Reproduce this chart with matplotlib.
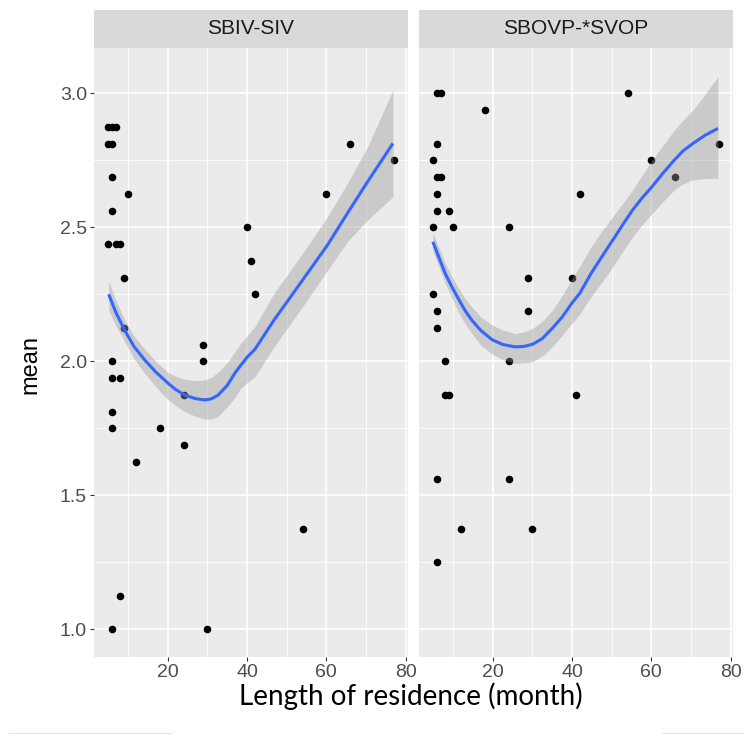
import matplotlib
matplotlib.use('Agg')
import matplotlib.pyplot as plt
from matplotlib.lines import Line2D

panels = ['SBIV-SIV', 'SBOVP-*SVOP']

# raw points, length of residence (month) vs mean
sbiv_x = [5, 6, 7, 5, 6, 6, 10, 6, 5, 7, 8, 9, 40, 41, 42, 9, 29, 29, 6, 6, 8,
          24, 6, 6, 18, 24, 12, 8, 6, 30, 66, 60, 77, 54]
sbiv_y = [2.875, 2.875, 2.875, 2.8125, 2.8125, 2.6875, 2.625, 2.5625, 2.4375, 2.4375, 2.4375,
          2.3125, 2.5, 2.375, 2.25, 2.125, 2.0625, 2.0, 2.0, 1.9375, 1.9375,
          1.875, 1.8125, 1.75, 1.75, 1.6875, 1.625, 1.125, 1.0, 1.0, 2.8125, 2.625, 2.75, 1.375]

svop_x = [6, 7, 18, 6, 5, 6, 7, 6, 42, 6, 9, 5, 10, 24, 29, 40, 5, 6, 29, 6,
          8, 24, 8, 9, 41, 6, 24, 12, 30, 6, 54, 60, 66, 77]
svop_y = [3.0, 3.0, 2.9375, 2.8125, 2.75, 2.6875, 2.6875, 2.625, 2.625, 2.5625, 2.5625, 2.5, 2.5, 2.5,
          2.3125, 2.3125, 2.25, 2.1875, 2.1875, 2.125, 2.0, 2.0, 1.875, 1.875, 1.875,
          1.5625, 1.5625, 1.375, 1.375, 1.25, 3.0, 2.75, 2.6875, 2.8125]

# loess fit with its confidence band
sbiv_fit_x = [5.1, 7, 9.1, 11.5, 14.2, 17, 20.1, 22, 24.3, 27, 29.3, 31, 32.7, 35, 36.9,
              38.4, 40, 42, 46.8, 50, 55.2, 60.3, 65.3, 70.4, 76.8]
sbiv_fit = [2.25, 2.18, 2.117, 2.055, 2.005, 1.96, 1.918, 1.895, 1.874, 1.861, 1.856, 1.86, 1.874,
            1.91, 1.955, 1.985, 2.015, 2.045, 2.154, 2.22, 2.328, 2.434, 2.552, 2.67, 2.813]
sbiv_lo = [2.19, 2.13, 2.075, 2.01, 1.955, 1.905, 1.856, 1.835, 1.812, 1.795, 1.785, 1.785, 1.795,
           1.83, 1.865, 1.90, 1.92, 1.943, 2.054, 2.12, 2.229, 2.34, 2.446, 2.527, 2.614]
sbiv_hi = [2.30, 2.225, 2.155, 2.095, 2.045, 2.0, 1.958, 1.945, 1.933, 1.928, 1.93, 1.94, 1.96,
           1.995, 2.035, 2.067, 2.095, 2.13, 2.254, 2.32, 2.428, 2.54, 2.664, 2.80, 3.012]

svop_fit_x = [4.9, 6.5, 8, 9.8, 11.5, 13, 14.7, 17, 19.9, 22.5, 25.6, 28, 30.1, 32.5, 35, 37.5,
              40, 42, 44.8, 47.5, 50.3, 52.8, 55.3, 57.7, 60.2, 63, 65.8, 68, 70.5, 73.5, 76.8]
svop_fit = [2.446, 2.385, 2.328, 2.275, 2.229, 2.19, 2.154, 2.115, 2.08, 2.063, 2.054, 2.056,
            2.064, 2.085, 2.123, 2.165, 2.218, 2.255, 2.328, 2.39, 2.453, 2.51, 2.565, 2.61,
            2.652, 2.703, 2.751, 2.785, 2.813, 2.843, 2.869]
svop_lo = [2.41, 2.35, 2.29, 2.233, 2.179, 2.14, 2.104, 2.06, 2.027, 2.007, 1.993, 1.994,
           1.999, 2.02, 2.054, 2.097, 2.142, 2.177, 2.241, 2.295, 2.353, 2.41, 2.465, 2.51,
           2.552, 2.597, 2.64, 2.662, 2.677, 2.682, 2.683]
svop_hi = [2.478, 2.422, 2.366, 2.315, 2.27, 2.235, 2.204, 2.165, 2.135, 2.117, 2.104, 2.11,
           2.123, 2.15, 2.19, 2.245, 2.31, 2.355, 2.428, 2.485, 2.54, 2.59, 2.64, 2.695,
           2.751, 2.807, 2.863, 2.90, 2.938, 2.995, 3.062]

W, H = 744, 740
fig = plt.figure(figsize=(W / 100, H / 100), dpi=100)
plt.rcParams['font.family'] = ['Liberation Sans', 'DejaVu Sans']

data = [
    (sbiv_x, sbiv_y, sbiv_fit_x, sbiv_fit, sbiv_lo, sbiv_hi),
    (svop_x, svop_y, svop_fit_x, svop_fit, svop_lo, svop_hi),
]
lefts = [94, 419]
pw = 314
top, bottom = 48, 657
strip_top = 10

for i, (px, py, fx, fy, lo, hi) in enumerate(data):
    ax = fig.add_axes([lefts[i] / W, 1 - bottom / H, pw / W, (bottom - top) / H])
    ax.set_facecolor('#EBEBEB')
    for s in ax.spines.values():
        s.set_visible(False)

    ax.scatter(px, py, s=30, color='black', linewidths=0, zorder=2)
    ax.fill_between(fx, lo, hi, color='#999999', alpha=0.4, linewidth=0, zorder=3)
    ax.plot(fx, fy, color='#3366FF', lw=2.2, zorder=4, solid_capstyle='butt',
            solid_joinstyle='round')

    ax.set_xlim(1.4, 80.6)
    ax.set_ylim(0.897, 3.169)
    ax.set_xticks([20, 40, 60, 80])
    ax.set_xticks([10, 30, 50, 70], minor=True)
    ax.set_yticks([1.0, 1.5, 2.0, 2.5, 3.0])
    ax.set_yticks([1.25, 1.75, 2.25, 2.75], minor=True)
    ax.grid(which='major', color='white', lw=1.2)
    ax.grid(which='minor', color='white', lw=0.6)
    ax.set_axisbelow(True)
    ax.tick_params(which='minor', length=0)
    ax.tick_params(which='major', length=3, width=0.8, color='#333333',
                   labelsize=14, labelcolor='#4D4D4D', pad=2)
    if i == 0:
        ax.set_yticklabels(['1.0', '1.5', '2.0', '2.5', '3.0'])
    else:
        ax.tick_params(axis='y', left=False, labelleft=False)

    # facet strip
    sax = fig.add_axes([lefts[i] / W, 1 - top / H, pw / W, (top - strip_top) / H])
    sax.set_facecolor('#D9D9D9')
    sax.set_xticks([])
    sax.set_yticks([])
    for s in sax.spines.values():
        s.set_visible(False)
    sax.text(0.5, 0.5, panels[i], ha='center', va='center', fontsize=15,
             color='#1A1A1A', transform=sax.transAxes)

fig.text(30 / W, 1 - 365 / H, 'mean', rotation=90, ha='center', va='center',
         fontsize=17, color='black')
fig.text(411 / W, 1 - 696 / H, 'Length of residence (month)', ha='center', va='center',
         fontsize=20, color='black', family=['Lato', 'DejaVu Sans'])

# faint marks left along the bottom edge
fig.add_artist(Line2D([9 / W, 171 / W], [1 - 733 / H, 1 - 733 / H], color='#F2EE8C', lw=0.8))
fig.add_artist(Line2D([662 / W, 744 / W], [1 - 733 / H, 1 - 733 / H], color='#F2EE8C', lw=0.8))

fig.savefig('out.png', dpi=100)
